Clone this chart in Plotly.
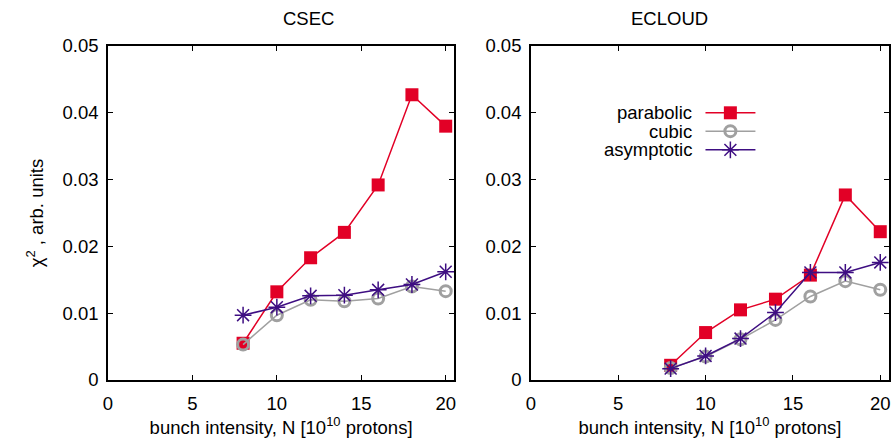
import plotly.graph_objects as go

x_vals = [8, 10, 12, 14, 16, 18, 20]

csec_parabolic = [0.0055, 0.0132, 0.0183, 0.0221, 0.0292, 0.0427, 0.0380]
csec_cubic = [0.0053, 0.0097, 0.0120, 0.0118, 0.0122, 0.0140, 0.0133]
csec_asymptotic = [0.0097, 0.0109, 0.0126, 0.0127, 0.0135, 0.0143, 0.0162]

ecloud_parabolic = [0.0022, 0.0071, 0.0105, 0.0121, 0.0157, 0.0277, 0.0222]
ecloud_cubic = [0.0018, 0.0035, 0.0061, 0.0090, 0.0125, 0.0148, 0.0135]
ecloud_asymptotic = [0.0017, 0.0036, 0.0062, 0.0101, 0.0161, 0.0161, 0.0176]

series_names = ["parabolic", "cubic", "asymptotic"]
x_ticks = [0, 5, 10, 15, 20]
y_ticks = [0, 0.01, 0.02, 0.03, 0.04, 0.05]
y_tick_text = ["0", "0.01", "0.02", "0.03", "0.04", "0.05"]

RED = "rgb(226,0,38)"
GRAY = "rgb(160,160,160)"
PURPLE = "rgb(62,14,130)"
FONT = "Liberation Sans, Arial, sans-serif"
FS = 18.5

styles = {
    "parabolic": dict(line=dict(color=RED, width=1.5),
                      marker=dict(symbol="square", size=13, color=RED)),
    "cubic": dict(line=dict(color=GRAY, width=1.5),
                  marker=dict(symbol="circle-open", size=11, color=GRAY,
                              line=dict(color=GRAY, width=3))),
    "asymptotic": dict(line=dict(color=PURPLE, width=1.5),
                       marker=dict(symbol="asterisk-open", size=14, color=PURPLE,
                                   line=dict(color=PURPLE, width=1.5))),
}

fig = go.Figure()

panels = [
    ("x", "y", [csec_parabolic, csec_cubic, csec_asymptotic]),
    ("x2", "y2", [ecloud_parabolic, ecloud_cubic, ecloud_asymptotic]),
]
for xa, ya, data in panels:
    for name, vals in zip(series_names, data):
        fig.add_trace(go.Scatter(x=x_vals, y=vals, mode="lines+markers", name=name,
                                 xaxis=xa, yaxis=ya, showlegend=False,
                                 cliponaxis=False, **styles[name]))

# manual gnuplot-style legend (text left, sample right) in right panel
leg_rows = [0.800, 0.745, 0.689]
for name, yy in zip(series_names, leg_rows):
    fig.add_trace(go.Scatter(x=[0.4875, 0.627], y=[yy, yy], mode="lines",
                             xaxis="x3", yaxis="y3", showlegend=False,
                             line=styles[name]["line"], hoverinfo="skip"))
    fig.add_trace(go.Scatter(x=[0.557], y=[yy], mode="markers",
                             xaxis="x3", yaxis="y3", showlegend=False,
                             marker=styles[name]["marker"], hoverinfo="skip"))
    fig.add_annotation(x=0.456, y=yy, xref="x3", yref="y3", text=name,
                       showarrow=False, xanchor="right", yanchor="middle",
                       font=dict(family=FONT, size=FS, color="black"))

axis_common = dict(showgrid=False, zeroline=False, showline=True, linecolor="black",
                   linewidth=1.5, mirror="ticks", ticks="inside", ticklen=5,
                   tickwidth=1, tickcolor="black",
                   tickfont=dict(family=FONT, size=FS, color="black"))

xtitle = dict(text="bunch intensity, N [10<sup>10</sup> protons]",
              font=dict(family=FONT, size=FS, color="black"), standoff=6)

L, R = 0.0, 0.4432
L2, R2 = 0.5415, 1.0

fig.update_layout(
    width=893, height=439,
    margin=dict(l=108, r=2, t=46, b=59),
    plot_bgcolor="white", paper_bgcolor="white",
    font=dict(family=FONT, color="black"),
    xaxis=dict(domain=[L, R], range=[0, 20.5], tickvals=x_ticks, title=xtitle,
               ticklabelstandoff=6, **axis_common),
    yaxis=dict(domain=[0, 1], range=[0, 0.05], tickvals=y_ticks, ticktext=y_tick_text,
               ticklabelstandoff=4,
               title=dict(text="χ<sup>2</sup> , arb. units",
                          font=dict(family=FONT, size=FS, color="black"), standoff=14),
               **axis_common),
    xaxis2=dict(domain=[L2, R2], range=[0, 20.5], tickvals=x_ticks, title=xtitle,
                ticklabelstandoff=6, anchor="y2", **axis_common),
    yaxis2=dict(domain=[0, 1], range=[0, 0.05], tickvals=y_ticks, ticktext=y_tick_text,
                ticklabelstandoff=4, anchor="x2", **axis_common),
    xaxis3=dict(range=[0, 1], visible=False, anchor="y3", overlaying="x2"),
    yaxis3=dict(range=[0, 1], visible=False, anchor="x3", overlaying="y2"),
)

fig.add_annotation(x=(L + R) / 2, y=1.0, xref="paper", yref="paper", yshift=28,
                   text="CSEC", showarrow=False, yanchor="middle",
                   font=dict(family=FONT, size=FS, color="black"))
fig.add_annotation(x=(L2 + R2) / 2, y=1.0, xref="paper", yref="paper", yshift=28,
                   text="ECLOUD", showarrow=False, yanchor="middle",
                   font=dict(family=FONT, size=FS, color="black"))

fig.write_html("out.html")
